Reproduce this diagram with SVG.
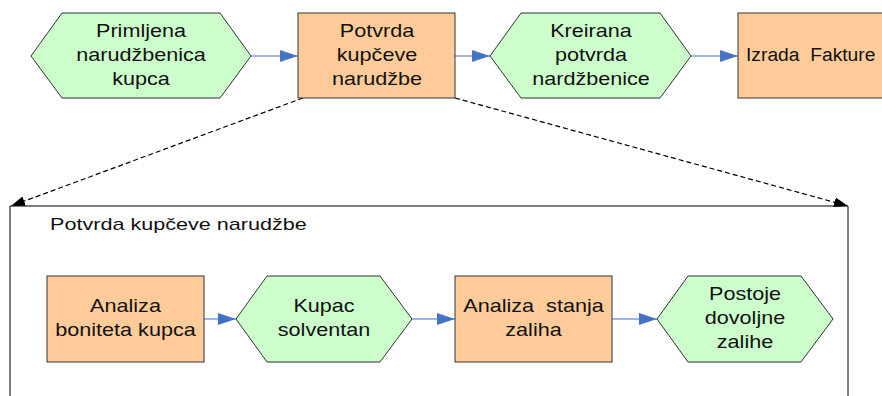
<svg xmlns="http://www.w3.org/2000/svg" width="882" height="396" viewBox="0 0 882 396">
<style>
.proc{fill:#FFCC99;stroke:#333;stroke-width:1}
.evt{fill:#CCFFCC;stroke:#333;stroke-width:1}
.t{font-family:"Liberation Sans",Arial,sans-serif;font-size:18px;fill:#111;text-anchor:middle;white-space:pre}
.tl{font-family:"Liberation Sans",Arial,sans-serif;font-size:18px;fill:#111;white-space:pre}
.title{font-family:"Liberation Sans",Arial,sans-serif;font-size:16px;fill:#111}
.flow{stroke:#7F9FD6;stroke-width:1.5;fill:none;marker-end:url(#ba)}
.dash{stroke:#000;stroke-width:1.2;fill:none;stroke-dasharray:5,3;marker-end:url(#ka)}
</style>
<defs>
<marker id="ba" viewBox="0 0 18 12" refX="18" refY="6" markerWidth="18" markerHeight="12" markerUnits="userSpaceOnUse" orient="auto">
<path d="M0,0 L18,6 L0,12 Z" fill="#4472C4"/>
</marker>
<marker id="ka" viewBox="0 0 14 10" refX="14" refY="5" markerWidth="14" markerHeight="10" markerUnits="userSpaceOnUse" orient="auto">
<path d="M0,0 L14,5 L0,10 Z" fill="#000"/>
</marker>
</defs>

<g id="container">
<path d="M10,396 L10,206 L848,206 L848,396" fill="none" stroke="#000" stroke-width="1"/>
<g transform="translate(50 0) scale(1.35 1)"><text class="title" x="0" y="230">Potvrda kupčeve narudžbe</text></g>
</g>

<g id="connectors">
<line class="flow" x1="251" y1="56" x2="298" y2="56"/>
<line class="flow" x1="455" y1="56" x2="490" y2="56"/>
<line class="flow" x1="691" y1="56" x2="738" y2="56"/>
<line class="flow" x1="204" y1="319" x2="236" y2="319"/>
<line class="flow" x1="412" y1="319" x2="455" y2="319"/>
<line class="flow" x1="612" y1="319" x2="657" y2="319"/>
<line class="dash" x1="303" y1="98" x2="11" y2="206"/>
<line class="dash" x1="455" y1="98" x2="848" y2="206"/>
</g>

<g id="n1">
<polygon class="evt" points="31,56 62,13 220,13 251,56 220,98 62,98"/>
<g transform="translate(141 0) scale(1.2 1)">
<text class="t" x="0" y="37">Primljena</text>
<text class="t" x="0" y="61">narudžbenica</text>
<text class="t" x="0" y="85">kupca</text>
</g>
</g>

<g id="n2">
<rect class="proc" x="298" y="13" width="157" height="85"/>
<g transform="translate(377 0) scale(1.2 1)">
<text class="t" x="0" y="37">Potvrda</text>
<text class="t" x="0" y="61">kupčeve</text>
<text class="t" x="0" y="85">narudžbe</text>
</g>
</g>

<g id="n3">
<polygon class="evt" points="490,56 521,13 660,13 691,56 660,98 521,98"/>
<g transform="translate(591 0) scale(1.2 1)">
<text class="t" x="0" y="37">Kreirana</text>
<text class="t" x="0" y="61">potvrda</text>
<text class="t" x="0" y="85">nardžbenice</text>
</g>
</g>

<g id="n4">
<rect class="proc" x="738" y="13" width="160" height="85"/>
<g transform="translate(746 0) scale(1.07 1)">
<text class="tl" x="0" y="61">Izrada  Fakture</text>
</g>
</g>

<g id="n5">
<rect class="proc" x="47" y="276" width="157" height="86"/>
<g transform="translate(125.5 0) scale(1.2 1)">
<text class="t" x="0" y="312">Analiza</text>
<text class="t" x="0" y="336">boniteta kupca</text>
</g>
</g>

<g id="n6">
<polygon class="evt" points="236,319 267,276 380,276 412,319 380,362 267,362"/>
<g transform="translate(324 0) scale(1.2 1)">
<text class="t" x="0" y="312">Kupac</text>
<text class="t" x="0" y="336">solventan</text>
</g>
</g>

<g id="n7">
<rect class="proc" x="455" y="276" width="157" height="86"/>
<g transform="translate(533.5 0) scale(1.2 1)">
<text class="t" x="0" y="312">Analiza  stanja</text>
<text class="t" x="0" y="336">zaliha</text>
</g>
</g>

<g id="n8">
<polygon class="evt" points="657,319 688,276 801,276 833,319 801,362 688,362"/>
<g transform="translate(745 0) scale(1.2 1)">
<text class="t" x="0" y="300">Postoje</text>
<text class="t" x="0" y="324">dovoljne</text>
<text class="t" x="0" y="348">zalihe</text>
</g>
</g>
</svg>
